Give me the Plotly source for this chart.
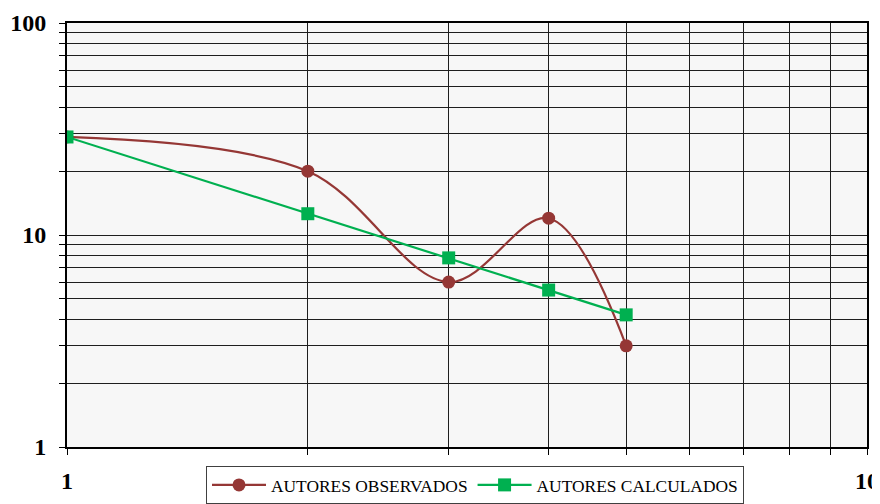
import plotly.graph_objects as go

x_vals = [1, 2, 3, 4, 5]
observados = [29.0, 20.0, 6.0, 12.0, 3.0]
calculados = [29.0, 12.6, 7.8, 5.5, 4.2]

x_major = [1, 10]
x_major_text = ["1", "10"]
y_major = [1, 10, 100]
y_major_text = ["1", "10", "100"]
x_minor = [2, 3, 4, 5, 6, 7, 8, 9]
y_minor = [m * d for d in (1, 10) for m in (2, 3, 4, 5, 6, 7, 8, 9)]

RED = "#953735"
GREEN = "#00b050"
GRID = "#1e1e1e"

fig = go.Figure()
fig.add_trace(go.Scatter(
    x=x_vals, y=observados, name="AUTORES OBSERVADOS",
    mode="lines+markers",
    line=dict(color=RED, width=2.2, shape="spline", smoothing=1.0),
    marker=dict(symbol="circle", size=13, color=RED),
))
fig.add_trace(go.Scatter(
    x=x_vals, y=calculados, name="AUTORES CALCULADOS",
    mode="lines+markers",
    line=dict(color=GREEN, width=2.2),
    marker=dict(symbol="square", size=13, color=GREEN),
))

tickfont = dict(family="Liberation Serif", size=24, color="black", weight="bold")

# page body has an 8px margin, so the figure is sized/positioned to compensate
fig.update_layout(
    width=872, height=496,
    margin=dict(l=59, r=13, t=15, b=57, autoexpand=False),
    paper_bgcolor="white",
    plot_bgcolor="#f7f7f7",
    showlegend=True,
    legend=dict(
        orientation="h",
        x=0.51, xanchor="center",
        y=-0.045, yanchor="top",
        bgcolor="white",
        bordercolor="#404040", borderwidth=1,
        font=dict(family="Liberation Serif", size=17.4, color="black"),
        itemwidth=54,
        tracegroupgap=0,
    ),
    xaxis=dict(
        type="log", range=[0, 1],
        automargin=False,
        tickvals=x_major, ticktext=x_major_text,
        tickfont=tickfont,
        ticks="outside", ticklen=6, tickcolor="black", tickwidth=1,
        ticklabelstandoff=5,
        showgrid=True, gridcolor=GRID, gridwidth=1,
        minor=dict(tickvals=x_minor, ticks="outside", ticklen=6,
                   tickcolor="black", showgrid=True, gridcolor=GRID, gridwidth=1),
        showline=True, linecolor="black", linewidth=2, mirror=True,
        zeroline=False,
    ),
    yaxis=dict(
        type="log", range=[0, 2],
        automargin=False,
        tickvals=y_major, ticktext=y_major_text,
        tickfont=tickfont,
        ticks="outside", ticklen=6, tickcolor="black", tickwidth=1,
        ticklabelstandoff=8,
        showgrid=True, gridcolor=GRID, gridwidth=1,
        minor=dict(tickvals=y_minor, ticks="outside", ticklen=6,
                   tickcolor="black", showgrid=True, gridcolor=GRID, gridwidth=1),
        showline=True, linecolor="black", linewidth=2, mirror=True,
        zeroline=False,
    ),
)

fig.write_html("out.html")
